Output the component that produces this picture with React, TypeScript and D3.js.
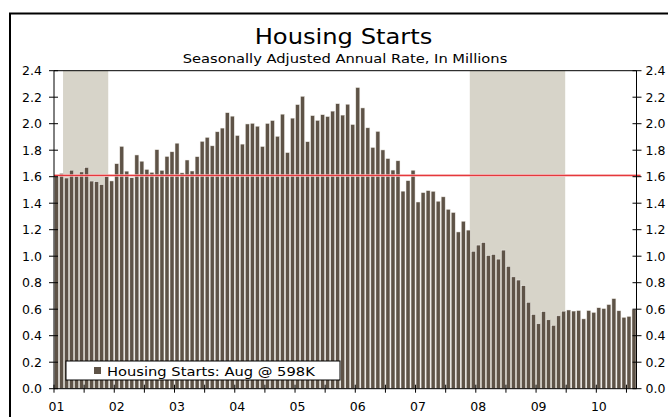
import React, { useEffect, useRef } from 'react';
import * as d3 from 'd3';

// housing starts, millions SAAR, Jan 2001 .. Aug 2010
const starts2001 = [1.60, 1.625, 1.59, 1.649, 1.605, 1.636, 1.67, 1.567, 1.562, 1.54, 1.602, 1.568];
const starts2002 = [1.698, 1.829, 1.642, 1.592, 1.764, 1.717, 1.655, 1.633, 1.804, 1.648, 1.753, 1.788];
const starts2003 = [1.853, 1.629, 1.726, 1.643, 1.751, 1.867, 1.897, 1.833, 1.939, 1.967, 2.083, 2.057];
const starts2004 = [1.911, 1.846, 1.998, 2.003, 1.981, 1.828, 2.002, 2.024, 1.905, 2.072, 1.782, 2.042];
const starts2005 = [2.144, 2.207, 1.864, 2.061, 2.025, 2.068, 2.054, 2.095, 2.151, 2.065, 2.147, 1.994];
const starts2006 = [2.273, 2.119, 1.969, 1.821, 1.942, 1.802, 1.737, 1.65, 1.72, 1.491, 1.57, 1.649];
const starts2007 = [1.409, 1.48, 1.495, 1.49, 1.415, 1.448, 1.354, 1.33, 1.183, 1.264, 1.197, 1.037];
const starts2008 = [1.084, 1.103, 1.005, 1.013, 0.978, 1.046, 0.923, 0.844, 0.82, 0.777, 0.652, 0.56];
const starts2009 = [0.49, 0.582, 0.52, 0.478, 0.55, 0.585, 0.594, 0.586, 0.59, 0.527, 0.59, 0.576];
const starts2010 = [0.611, 0.605, 0.635, 0.68, 0.588, 0.539, 0.546, 0.598];

const starts = [
  ...starts2001, ...starts2002, ...starts2003, ...starts2004, ...starts2005,
  ...starts2006, ...starts2007, ...starts2008, ...starts2009, ...starts2010,
];

const yearLabels = ['01', '02', '03', '04', '05', '06', '07', '08', '09', '10'];
const yTicks = [0, 0.2, 0.4, 0.6, 0.8, 1.0, 1.2, 1.4, 1.6, 1.8, 2.0, 2.2, 2.4];
// recessions as [first month index, last month index]
const recessions = [[2, 10], [83, 101]];
const refLevel = 1.61;
const legendLabel = 'Housing Starts: Aug @ 598K';

const FONT = '"DejaVu Sans", Verdana, sans-serif';

export default function App() {
  const ref = useRef<SVGSVGElement>(null);

  useEffect(() => {
    const svg = d3.select(ref.current);
    svg.selectAll('*').remove();

    const left = 54, right = 636.5, top = 70.7, bottom = 388.7;

    const x = d3.scaleBand<number>()
      .domain(d3.range(starts.length))
      .range([left, right])
      .paddingInner(0.2)
      .paddingOuter(0.1);
    const step = x.step();
    const edge = (i: number) => left + step * i;

    const y = d3.scaleLinear().domain([0, 2.4]).range([bottom, top]);

    // text squeezed wider like the original (which was stretched)
    const wideText = (g, tx, ty, size, sx, anchor, str) =>
      g.append('text')
        .attr('transform', `translate(${tx},${ty}) scale(${sx},1)`)
        .attr('text-anchor', anchor)
        .style('font-family', FONT).style('font-size', size + 'px')
        .text(str);

    // outer frame
    svg.append('rect')
      .attr('x', 10).attr('y', 13.5)
      .attr('width', 700).attr('height', 450)
      .attr('fill', 'white').attr('stroke', 'black').attr('stroke-width', 2);

    // titles
    wideText(svg, 343.5, 44, 22, 1.1, 'middle', 'Housing Starts');
    wideText(svg, 345, 63, 13, 1.13, 'middle', 'Seasonally Adjusted Annual Rate, In Millions');

    // recession shading
    svg.selectAll('.rec').data(recessions).join('rect')
      .attr('class', 'rec')
      .attr('x', d => edge(d[0]) - 1)
      .attr('y', top)
      .attr('width', d => edge(d[1] + 1) - edge(d[0]))
      .attr('height', bottom - top)
      .attr('fill', '#d7d4c9');

    // bars
    svg.selectAll('.bar').data(starts).join('rect')
      .attr('class', 'bar')
      .attr('x', (d, i) => x(i)!)
      .attr('y', d => y(d))
      .attr('width', x.bandwidth())
      .attr('height', d => bottom - y(d))
      .attr('fill', '#5e5347')
      .attr('stroke', '#f2efea')
      .attr('stroke-width', 0.5);

    // reference line
    svg.append('line')
      .attr('x1', left).attr('x2', right + 4)
      .attr('y1', y(refLevel)).attr('y2', y(refLevel))
      .attr('stroke', '#f7b8b8').attr('stroke-width', 2.5);
    svg.append('line')
      .attr('x1', left).attr('x2', right + 4)
      .attr('y1', y(refLevel)).attr('y2', y(refLevel))
      .attr('stroke', '#e3262b').attr('stroke-width', 1);

    // axes frame
    const axis = svg.append('g').attr('stroke', 'black').attr('stroke-width', 1);
    axis.append('line').attr('x1', left).attr('x2', left).attr('y1', top).attr('y2', bottom);
    axis.append('line').attr('x1', right).attr('x2', right).attr('y1', top).attr('y2', bottom);
    axis.append('line').attr('x1', left).attr('x2', right).attr('y1', top).attr('y2', top);
    axis.append('line').attr('x1', left).attr('x2', right).attr('y1', bottom).attr('y2', bottom);

    axis.selectAll('.tl').data(yTicks).join('line')
      .attr('class', 'tl')
      .attr('x1', left - 5).attr('x2', left + 4)
      .attr('y1', d => y(d)).attr('y2', d => y(d));
    axis.selectAll('.tr').data(yTicks).join('line')
      .attr('class', 'tr')
      .attr('x1', right - 4).attr('x2', right + 5)
      .attr('y1', d => y(d)).attr('y2', d => y(d));

    const halfYears = d3.range(0, starts.length, 6);
    axis.selectAll('.tx').data(halfYears).join('line')
      .attr('class', 'tx')
      .attr('x1', d => edge(d)).attr('x2', d => edge(d))
      .attr('y1', bottom - 4).attr('y2', bottom + 4);

    svg.selectAll('.yl').data(yTicks).join('text')
      .attr('class', 'yl')
      .attr('x', left - 12).attr('y', d => y(d) + 4.5)
      .attr('text-anchor', 'end')
      .style('font-family', FONT).style('font-size', '12.5px')
      .text(d => d.toFixed(1));
    svg.selectAll('.yr').data(yTicks).join('text')
      .attr('class', 'yr')
      .attr('x', right + 9).attr('y', d => y(d) + 4.5)
      .style('font-family', FONT).style('font-size', '12.5px')
      .text(d => d.toFixed(1));

    svg.selectAll('.xl').data(yearLabels).join('text')
      .attr('class', 'xl')
      .attr('x', (d, i) => x(i * 12)! + x.bandwidth() / 2)
      .attr('y', 411)
      .attr('text-anchor', 'middle')
      .style('font-family', FONT).style('font-size', '12.5px')
      .text(d => d);

    // legend
    const lg = svg.append('g');
    lg.append('rect')
      .attr('x', 66).attr('y', 361)
      .attr('width', 274).attr('height', 19)
      .attr('fill', 'white').attr('stroke', 'black').attr('stroke-width', 1);
    lg.append('rect')
      .attr('x', 94).attr('y', 367)
      .attr('width', 7).attr('height', 7)
      .attr('fill', '#5e5347');
    wideText(lg, 107, 375.5, 13, 1.13, 'start', legendLabel);
  }, []);

  return (
    <svg ref={ref} width={668} height={417}
      style={{ position: 'absolute', left: 0, top: 0, background: 'white' }} />
  );
}
